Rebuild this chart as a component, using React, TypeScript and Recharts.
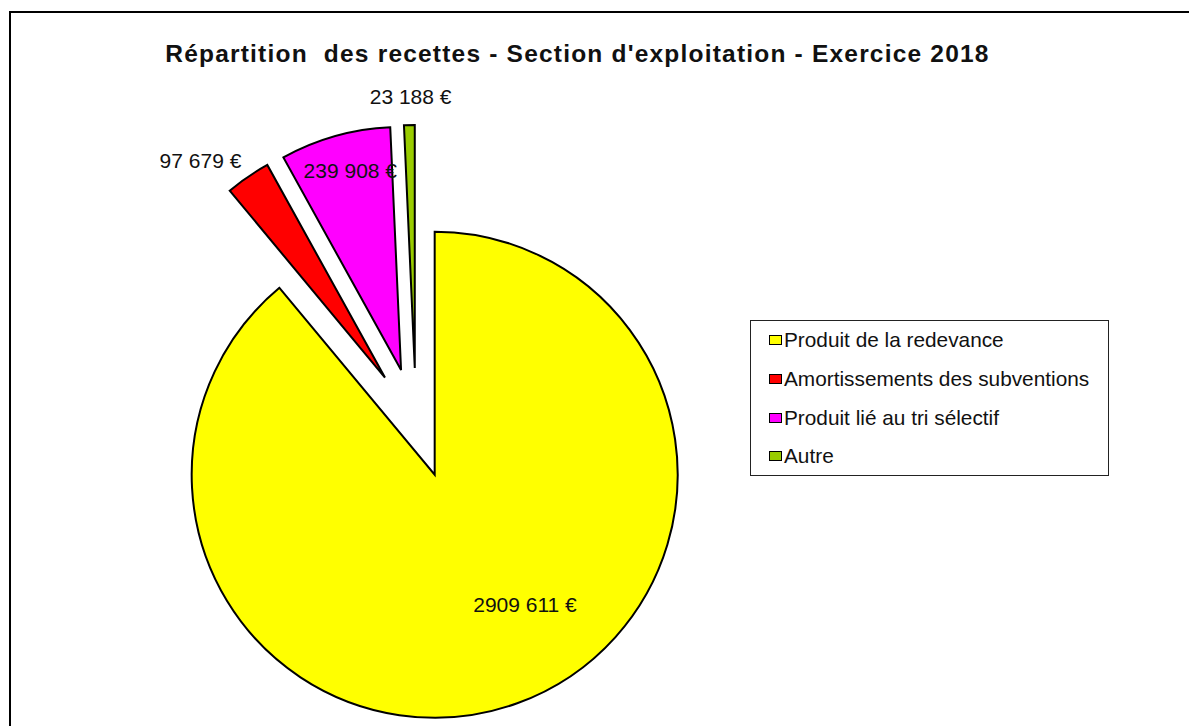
import React from "react";
import { PieChart, Pie, Cell, Sector, Legend } from "recharts";

const categories = ["Produit de la redevance", "Amortissements des subventions", "Produit lié au tri sélectif", "Autre"];
const amounts = [2909611, 97679, 239908, 23188];
const valueLabels = ["2909 611 €", "97 679 €", "239 908 €", "23 188 €"];
const COLORS = ["#ffff00", "#ff0000", "#ff00ff", "#99cc00"];

// where each value label sits, relative to its (exploded) slice
const LABEL_R = [158, 285, 206, 272];
const LABEL_SHIFT = [15, 6, -1.5, -0.4];

const RAD = Math.PI / 180;
const EXPLODE = 55;
const FONT = '"Liberation Sans", Arial, sans-serif';

const data = categories.map((name, i) => ({ name, value: amounts[i] }));

function shift(midAngle: number) {
  return { dx: EXPLODE * Math.cos(-midAngle * RAD), dy: EXPLODE * Math.sin(-midAngle * RAD) };
}

const ExplodedSector = (props: any) => {
  const { dx, dy } = shift(props.midAngle);
  return <Sector {...props} cx={props.cx + dx} cy={props.cy + dy} />;
};

const renderLabel = (p: any) => {
  const { dx, dy } = shift(p.midAngle);
  const a = (p.midAngle + LABEL_SHIFT[p.index]) * RAD;
  const x = p.cx + dx + LABEL_R[p.index] * Math.cos(-a);
  const y = p.cy + dy + LABEL_R[p.index] * Math.sin(-a);
  return (
    <text x={x} y={y} textAnchor="middle" dominantBaseline="central" fill="#111" fontSize={21} fontFamily={FONT}>
      {valueLabels[p.index]}
    </text>
  );
};

const LegendBox = () => (
  <div style={{ border: "1px solid #222", background: "#fff", width: 357, height: 154, boxSizing: "content-box", fontFamily: FONT }}>
    {categories.map((c, i) => (
      <div key={c} style={{ height: 38.7, display: "flex", alignItems: "center", paddingLeft: 18 }}>
        <span style={{ width: 11, height: 8, background: COLORS[i], border: "1.5px solid #000", marginRight: 2 }} />
        <span style={{ fontSize: 20.8, color: "#111" }}>{c}</span>
      </div>
    ))}
  </div>
);

export default function App() {
  return (
    <div style={{ position: "absolute", left: 0, top: 0, width: 1189, height: 726, overflow: "hidden", background: "#fff" }}>
      <div style={{ position: "absolute", left: 9, top: 11, width: 1300, height: 900, borderLeft: "2px solid #000", borderTop: "2px solid #000" }} />
      <div style={{ position: "absolute", left: 0, width: 1155, top: 42, textAlign: "center", fontFamily: FONT, fontWeight: "bold", fontSize: 24.5, lineHeight: "24px", letterSpacing: 1.2, whiteSpace: "pre", color: "#111" }}>
        {"Répartition  des recettes - Section d'exploitation - Exercice 2018"}
      </div>
      <div style={{ position: "absolute", left: 0, top: 0 }}>
        <PieChart width={1189} height={726} margin={{ top: 0, right: 0, bottom: 0, left: 0 }}>
          <Pie
            data={data}
            dataKey="value"
            nameKey="name"
            cx={416}
            cy={423}
            outerRadius={243}
            startAngle={90}
            endAngle={-270}
            stroke="#000"
            strokeWidth={2}
            shape={ExplodedSector}
            label={renderLabel}
            labelLine={false}
            isAnimationActive={false}
          >
            {data.map((d, i) => <Cell key={d.name} fill={COLORS[i]} />)}
          </Pie>
          <Legend
            layout="vertical"
            align="center"
            verticalAlign="middle"
            content={<LegendBox />}
            wrapperStyle={{ position: "absolute", left: 750, top: 320, width: 359, height: 156 }}
          />
        </PieChart>
      </div>
    </div>
  );
}
